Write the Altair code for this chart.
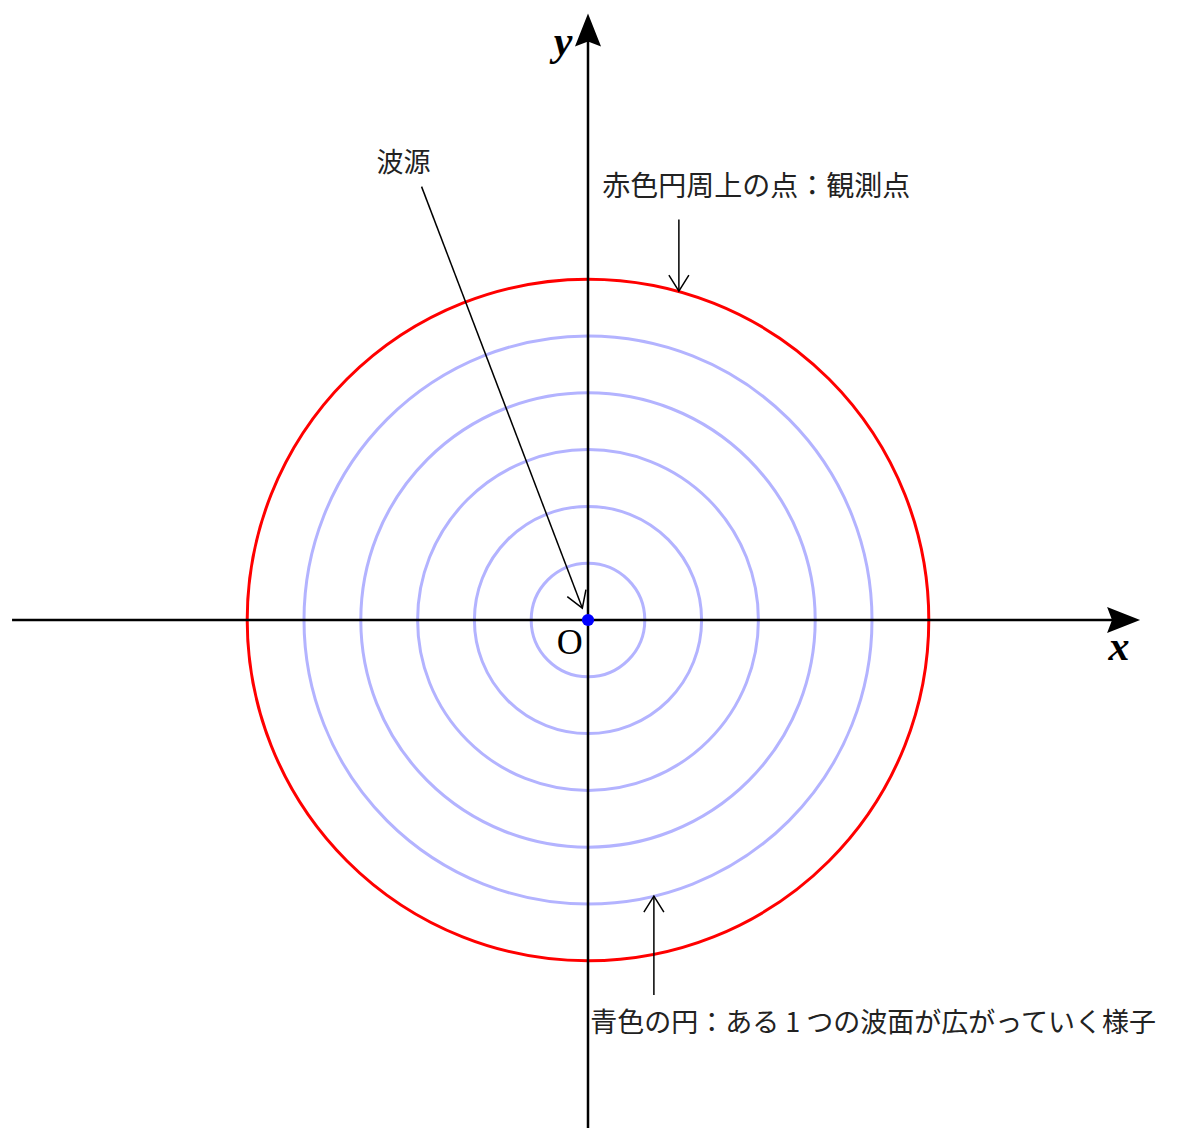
import math
import altair as alt
import pandas as pd

# ---- data ----
blue_radii = [1, 2, 3, 4, 5]
red_radii = [6]
source = [0.0]  # wave source at origin (x=y=0)

# annotation arrows (start x, start y, end x, end y) in plot units
arrow_x1 = [-2.93, 1.60, 1.16]
arrow_y1 = [7.63, 7.05, -6.60]
arrow_x2 = [-0.10, 1.60, 1.16]
arrow_y2 = [0.21, 5.79, -4.86]

label_text = ["波源", "赤色円周上の点：観測点", "青色の円：ある 1 つの波面が広がっていく様子"]
label_x = [-3.25, 0.25, 0.04]
label_y = [8.02, 7.60, -7.11]
label_size = [27, 28, 27]
label_align = ["center", "left", "left"]

# axes extents
x_axis = [-10.14, 9.72]
y_axis = [-9.0, 10.68]

UNIT = 56.8
W, H = 1162, 1120
xdom = [-580 / UNIT, 582 / UNIT]
ydom = [-508 / UNIT, 612 / UNIT]

X = alt.Scale(domain=xdom, nice=False, zero=False)
Y = alt.Scale(domain=ydom, nice=False, zero=False)
SIZE = alt.Scale(type="pow", exponent=2, domain=[0, 10], range=[0, (2 * UNIT * 10) ** 2])

def xe(f="x"):
    return alt.X(f"{f}:Q", scale=X, axis=None)

def ye(f="y"):
    return alt.Y(f"{f}:Q", scale=Y, axis=None)

# circles
blue_df = pd.DataFrame({"x": 0.0, "y": 0.0, "r": blue_radii})
red_df = pd.DataFrame({"x": 0.0, "y": 0.0, "r": red_radii})

blue = alt.Chart(blue_df).mark_point(shape="circle", filled=False, color="#b3b3ff",
                                      strokeWidth=3, opacity=1).encode(
    x=xe(), y=ye(), size=alt.Size("r:Q", scale=SIZE, legend=None))
red = alt.Chart(red_df).mark_point(shape="circle", filled=False, color="#ff0000",
                                    strokeWidth=3, opacity=1).encode(
    x=xe(), y=ye(), size=alt.Size("r:Q", scale=SIZE, legend=None))

# coordinate axes
xa_df = pd.DataFrame({"x": [x_axis[0]], "x2": [x_axis[1] - 0.3], "y": [0.0]})
ya_df = pd.DataFrame({"x": [0.0], "y": [y_axis[0]], "y2": [y_axis[1] - 0.3]})
xaxis = alt.Chart(xa_df).mark_rule(color="black", strokeWidth=2.5).encode(
    x=xe(), x2="x2:Q", y=ye())
yaxis = alt.Chart(ya_df).mark_rule(color="black", strokeWidth=2.5).encode(
    x=xe(), y=ye(), y2="y2:Q")

head_path = "M0,0L0.79,2L0,1.7L-0.79,2Z"
heads_df = pd.DataFrame({"x": [x_axis[1], 0.0], "y": [0.0, y_axis[1]], "ang": [90, 0]})
axis_heads = alt.Chart(heads_df).mark_point(shape=head_path, filled=True, color="black",
                                             size=33 ** 2, opacity=1, strokeWidth=0).encode(
    x=xe(), y=ye(), angle=alt.Angle("ang:Q", scale=None))

# annotation arrows
ang = [math.degrees(math.atan2(x2 - x1, y2 - y1)) % 360
       for x1, y1, x2, y2 in zip(arrow_x1, arrow_y1, arrow_x2, arrow_y2)]
arr_df = pd.DataFrame({"x": arrow_x1, "y": arrow_y1, "x2": arrow_x2, "y2": arrow_y2, "ang": ang})
arrows = alt.Chart(arr_df).mark_rule(color="black", strokeWidth=1.5).encode(
    x=xe(), y=ye(), x2="x2:Q", y2="y2:Q")
v_path = "M-1,1.6L0,0L1,1.6"
vheads = alt.Chart(arr_df).mark_point(shape=v_path, filled=False, color="black",
                                       size=400, strokeWidth=1.5, opacity=1).encode(
    x=xe("x2"), y=ye("y2"), angle=alt.Angle("ang:Q", scale=None))

# source dot
src_df = pd.DataFrame({"x": source, "y": source})
src = alt.Chart(src_df).mark_point(shape="circle", filled=True, color="#0000ff",
                                    size=150, opacity=1).encode(x=xe(), y=ye())

# labels
lab_df = pd.DataFrame({"x": label_x, "y": label_y, "t": label_text,
                       "a": label_align, "s": label_size})
labs_c = alt.Chart(lab_df[lab_df.a == "center"]).mark_text(
    font="Noto Sans CJK JP", align="center", baseline="middle", color="#222").encode(
    x=xe(), y=ye(), text="t:N", size=alt.Size("s:Q", scale=None))
labs_l = alt.Chart(lab_df[lab_df.a == "left"]).mark_text(
    font="Noto Sans CJK JP", align="left", baseline="middle", color="#222").encode(
    x=xe(), y=ye(), text="t:N", size=alt.Size("s:Q", scale=None))

axis_lab_df = pd.DataFrame({"x": [9.35, -0.44], "y": [-0.47, 10.18], "t": ["x", "y"]})
axis_labs = alt.Chart(axis_lab_df).mark_text(
    font="Liberation Serif", fontSize=42, fontWeight="bold", fontStyle="italic",
    align="center", baseline="middle", color="black").encode(x=xe(), y=ye(), text="t:N")
o_df = pd.DataFrame({"x": [-0.32], "y": [-0.40], "t": ["O"]})
o_lab = alt.Chart(o_df).mark_text(
    font="Liberation Serif", fontSize=36, align="center", baseline="middle",
    color="black").encode(x=xe(), y=ye(), text="t:N")

chart = alt.layer(
    blue, red, xaxis, yaxis, axis_heads, arrows, vheads, src, labs_c, labs_l, axis_labs, o_lab
).properties(
    width=W, height=H, padding=0,
    autosize=alt.AutoSizeParams(type="none"),
).configure_view(stroke=None)

chart.save("out.html", embed_options={"renderer": "svg", "actions": False})
